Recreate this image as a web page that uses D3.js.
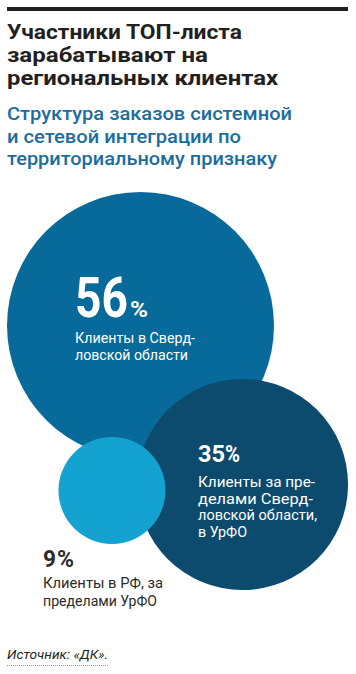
<!DOCTYPE html>
<html><head><meta charset="utf-8">
<script src="https://cdn.jsdelivr.net/npm/d3@7"></script>
<style>html,body{margin:0;padding:0;background:#fff;}svg{display:block;}</style>
</head><body>
<script>
// ---- data ----
const titleLines = ["Участники ТОП-листа", "зарабатывают на", "региональных клиентах"];
const subtitleLines = ["Структура заказов системной", "и сетевой интеграции по", "территориальному признаку"];
const categories = ["Клиенты в Свердловской области", "Клиенты за пределами Свердловской области, в УрФО", "Клиенты в РФ, за пределами УрФО"];
const values = [56, 35, 9];
const labelLines = [
  ["Клиенты в Сверд-", "ловской области"],
  ["Клиенты за пре-", "делами Сверд-", "ловской области,", "в УрФО"],
  ["Клиенты в РФ, за", "пределами УрФО"]
];
const sourceText = "Источник: «ДК».";

// ---- layout ----
const W = 356, H = 674;
const FONT = "Roboto, 'Liberation Sans', sans-serif";
const svg = d3.select("body").append("svg").attr("width", W).attr("height", H);

// draw text squeezed horizontally to a target width with a transform
function fitText(x, y, str, width, attrs) {
  const t = svg.append("text").attr("x", 0).attr("y", 0)
    .attr("font-family", FONT).text(str);
  Object.entries(attrs).forEach(([k, v]) => t.attr(k, v));
  const nat = t.node().getComputedTextLength();
  t.attr("transform", `translate(${x},${y}) scale(${width / nat},1)`);
  return t;
}

svg.append("rect").attr("x", 7).attr("y", 7).attr("width", 341).attr("height", 4).attr("fill", "#231f20");

const titleW = [235, 201, 271];
svg.selectAll("text.title").data(titleLines).join("text").attr("class", "title")
  .attr("x", 7).attr("y", (d, i) => 39 + i * 23)
  .attr("font-family", FONT).attr("font-weight", 700).attr("font-size", 20.5)
  .attr("fill", "#231f20")
  .attr("textLength", (d, i) => titleW[i]).attr("lengthAdjust", "spacingAndGlyphs")
  .text(d => d);

const subW = [285, 234, 270];
svg.selectAll("text.sub").data(subtitleLines).join("text").attr("class", "sub")
  .attr("x", 7).attr("y", (d, i) => 120 + i * 22.5)
  .attr("font-family", FONT).attr("font-weight", 500).attr("font-size", 19)
  .attr("fill", "#1b6d9f")
  .attr("textLength", (d, i) => subW[i]).attr("lengthAdjust", "spacingAndGlyphs")
  .text(d => d);

// circles
const r = d3.scaleSqrt().domain([0, d3.max(values)]).range([0, 133.5]);
const centers = [[140.5, 325.5], [242.5, 484.5], [112, 490.5]];
const colors = ["#076a9a", "#0c4a6e", "#14a2d0"];
svg.selectAll("circle.bubble").data(values).join("circle").attr("class", "bubble")
  .attr("cx", (d, i) => centers[i][0]).attr("cy", (d, i) => centers[i][1])
  .attr("r", d => r(d)).attr("fill", (d, i) => colors[i]);

// labels
const numPos = [[75, 317], [198, 462], [43, 567]];
const numSize = [56, 24, 24];
const numW = [53, 27, 13];
const pctSize = [22, 24, 24];
const pctW = [18, 15, 17];
const pctGap = [2, 0, 1];
const txtColor = ["#fff", "#fff", "#2b2b2b"];
const lineStart = [343, 487, 588];
const lineH = [17, 16.7, 18];
const lineW = [[120, 113], [117, 115, 119, 49], [120, 114]];

values.forEach((v, i) => {
  fitText(numPos[i][0], numPos[i][1], String(v), numW[i],
    {"font-weight": 700, "fill": txtColor[i], "font-size": numSize[i]});
  fitText(numPos[i][0] + numW[i] + pctGap[i], numPos[i][1], "%", pctW[i],
    {"font-weight": 700, "fill": txtColor[i], "font-size": pctSize[i]});
  labelLines[i].forEach((ln, j) => {
    svg.append("text")
      .attr("x", numPos[i][0]).attr("y", lineStart[i] + j * lineH[i])
      .attr("font-family", FONT).attr("font-size", 14).attr("fill", txtColor[i])
      .attr("textLength", lineW[i][j]).attr("lengthAdjust", "spacingAndGlyphs")
      .text(ln);
  });
});

// source
svg.append("text").attr("x", 7).attr("y", 659)
  .attr("font-family", FONT).attr("font-style", "italic").attr("font-size", 13.5)
  .attr("fill", "#231f20").attr("textLength", 101).attr("lengthAdjust", "spacingAndGlyphs")
  .text(sourceText);
svg.append("line").attr("x1", 7).attr("x2", 108).attr("y1", 665.5).attr("y2", 665.5)
  .attr("stroke", "#999").attr("stroke-width", 1).attr("stroke-dasharray", "1,1");
</script>
</body></html>
